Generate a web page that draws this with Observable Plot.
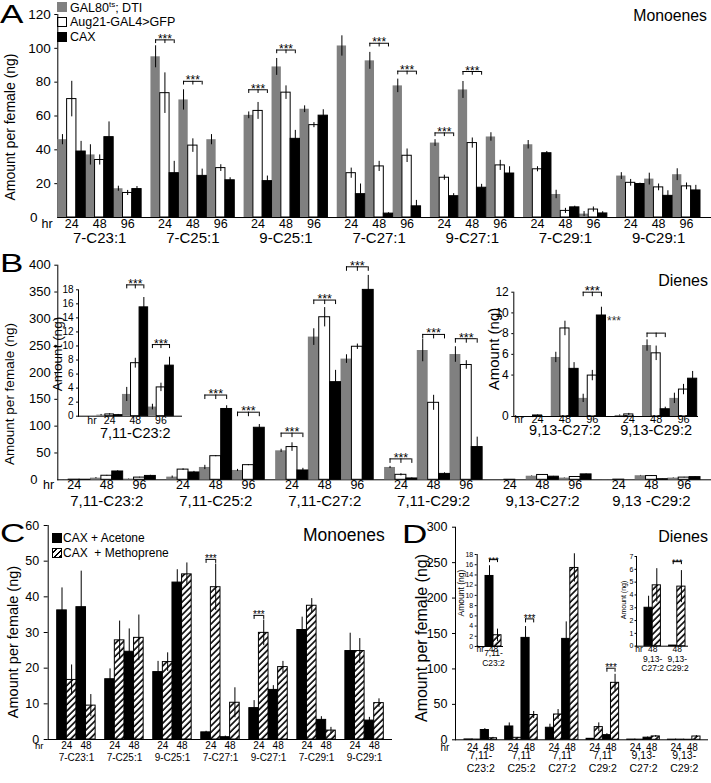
<!DOCTYPE html>
<html><head><meta charset="utf-8">
<script src="https://cdn.jsdelivr.net/npm/d3@7"></script>
<script src="https://cdn.jsdelivr.net/npm/@observablehq/plot@0.6"></script>
<style>
html,body{margin:0;padding:0;background:#fff;overflow:hidden;}
#fig{position:relative;width:711px;height:783px;font-family:"Liberation Sans",Arial,Helvetica,sans-serif;color:#000;overflow:hidden;}
.t{position:absolute;white-space:pre;line-height:1;}
.big{position:absolute;font-size:26px;line-height:1;transform:scaleX(1.35);transform-origin:0 0;}
.rot{position:absolute;white-space:nowrap;line-height:1;transform:translate(-50%,-50%) rotate(-90deg);}
.sw{position:absolute;width:10px;height:10px;box-sizing:border-box;}
</style></head><body>
<svg width="0" height="0" style="position:absolute"><defs>
<pattern id="hatch" patternUnits="userSpaceOnUse" width="4.5" height="4.5" patternTransform="rotate(45)">
<rect width="4.5" height="4.5" fill="#fff"/><line x1="1" y1="0" x2="1" y2="4.5" stroke="#000" stroke-width="1.6"/></pattern>
</defs></svg>
<div id="fig">
  <div class="big" style="left:0;top:0.5px">A</div>
  <div class="big" style="left:0;top:249.7px">B</div>
  <div class="big" style="left:0;top:520px">C</div>
  <div class="big" style="left:402px;top:520.7px">D</div>
  <div class="t" style="right:4px;top:8.3px;font-size:15.8px">Monoenes</div>
  <div class="t" style="right:3px;top:273.2px;font-size:16px">Dienes</div>
  <div class="t" style="left:303px;top:526.9px;font-size:17.5px">Monoenes</div>
  <div class="t" style="right:3px;top:529.2px;font-size:16px">Dienes</div>
  <div class="rot" style="left:9.5px;top:126.5px;font-size:14px">Amount per female (ng)</div>
  <div class="rot" style="left:10.3px;top:394px;font-size:13.5px">Amount per female (ng)</div>
  <div class="rot" style="left:12.7px;top:641.5px;font-size:14.5px">Amount per female (ng)</div>
  <div class="rot" style="left:422px;top:638px;font-size:16px">Amount per female (ng)</div>
  <div class="rot" style="left:58px;top:354px;font-size:13.5px">Amount (ng)</div>
  <div class="rot" style="left:492.5px;top:349px;font-size:15px">Amount (ng)</div>
  <div class="rot" style="left:460.5px;top:593px;font-size:8.5px">Amount (ng)</div>
  <div class="rot" style="left:623px;top:600px;font-size:7px">Amount (ng)</div>
  <div class="sw" style="left:57px;top:1.7px;background:#808080"></div>
  <div class="sw" style="left:57px;top:16.7px;background:#fff;border:1px solid #000"></div>
  <div class="sw" style="left:57px;top:32px;background:#000"></div>
  <div class="t" id="legA0" style="left:70px;top:0.6px;font-size:12.5px"></div>
  <div class="t" id="legA1" style="left:70px;top:15.6px;font-size:12.5px"></div>
  <div class="t" id="legA2" style="left:70px;top:30.9px;font-size:12.5px"></div>
  <div class="sw" style="left:51.7px;top:532.7px;background:#000"></div>
  <div class="sw" style="left:51.7px;top:548px;border:1px solid #000;background:repeating-linear-gradient(-45deg,#000 0 1.5px,#fff 1.5px 4px)"></div>
  <div class="t" id="legC0" style="left:63px;top:531.8px;font-size:12px"></div>
  <div class="t" id="legC1" style="left:63px;top:547.1px;font-size:12px"></div>
</div>
<script>
// ---------------- data ----------------
const genotypes = ["GAL80ts; DTI", "Aug21-GAL4>GFP", "CAX"];
const treatments = ["CAX + Acetone", "CAX  + Methoprene"];
const timesAB = ["24", "48", "96"];
const timesCD = ["24", "48"];

// Panel A: monoenes (compound-major, then 24/48/96 h)
const compoundsA = ["7-C23:1", "7-C25:1", "9-C25:1", "7-C27:1", "9-C27:1", "7-C29:1", "9-C29:1"];
const gal80A = [46, 37, 17, 95, 69.5, 46, 60.4, 89, 64, 101.4, 92.6, 77.8, 44, 75.4, 47.6, 43, 13.6, 2, 24.5, 22.7, 25.3];
const aug21A = [70, 34, 14.5, 73.5, 42.5, 29.2, 63, 73.8, 54.6, 26.2, 30.2, 36.5, 23.5, 44, 30.8, 28.5, 3.9, 4.7, 20.5, 17.8, 18.4];
const caxA = [39, 47.5, 16.8, 26.2, 24.6, 22, 21.5, 46.5, 60.2, 13.8, 2.3, 6.6, 12.6, 17.6, 26, 38, 6, 2.4, 19.8, 12.8, 16];
const gal80ErrA = [3, 6, 1.5, 6.5, 6, 3, 2, 5, 2, 6, 5, 4, 2, 5, 2.5, 2.5, 2.5, 1.5, 2, 3.5, 3.5];
const aug21ErrA = [10.5, 3, 1.5, 12, 4, 2, 5, 4, 1.5, 3, 3, 4, 1.5, 3, 3, 1.5, 1.5, 1.5, 2, 2, 2];
const caxErrA = [6, 9, 1.5, 7, 4, 1.5, 3, 5, 3.5, 6, 0.5, 3.5, 1.5, 2, 4, 1, 0.7, 1, 0.5, 3, 3];
const sigA = [{c: 1, t: 0, y: 105}, {c: 1, t: 1, y: 80.5}, {c: 2, t: 0, y: 75.5}, {c: 2, t: 1, y: 99},
              {c: 3, t: 1, y: 103}, {c: 3, t: 2, y: 86.5}, {c: 4, t: 0, y: 50}, {c: 4, t: 1, y: 86.3}];

// Panel B: dienes
const compoundsB = ["7,11-C23:2", "7,11-C25:2", "7,11-C27:2", "7,11-C29:2", "9,13-C27:2", "9,13 -C29:2"];
const gal80B = [0.15, 3.1, 1.3, 5, 23, 17.4, 54, 266, 225, 23, 241, 233.5, 0, 6.7, 3.2, 0.15, 7.6, 3.2];
const aug21B = [0.25, 7.55, 4.1, 19, 44, 27.3, 61, 303, 248, 9.3, 143.5, 214, 0.1, 9, 5.2, 0.3, 7, 4.1];
const caxB = [0.15, 15.5, 7.2, 13.7, 132, 97, 17.4, 182, 354, 2.5, 11, 61, 0, 5.8, 10.1, 0, 1.1, 5];
const gal80ErrB = [0.1, 1, 0.4, 2, 4, 2, 3, 15.5, 8, 2, 21, 14.5, 0, 0.5, 0.4, 0.05, 0.55, 0.5];
const aug21ErrB = [0.1, 0.7, 0.6, 1.5, 1, 1, 8, 18, 5, 2, 14, 8, 0.05, 0.7, 0.5, 0.1, 0.7, 0.5];
const caxErrB = [0.1, 1.4, 1.2, 2, 6, 6, 4, 22, 27, 1, 2, 18.5, 0, 0.6, 0.8, 0, 0.3, 0.6];
const sigB = [{c: 1, t: 1, y: 158}, {c: 1, t: 2, y: 126}, {c: 2, t: 0, y: 87}, {c: 2, t: 1, y: 335},
              {c: 2, t: 2, y: 397}, {c: 3, t: 0, y: 39}, {c: 3, t: 1, y: 271}, {c: 3, t: 2, y: 263}];
// inset 1 of panel B (7,11-C23:2, ng)
const insetB1Compounds = ["7,11-C23:2"];
const gal80B1 = [0.15, 3.1, 1.3], aug21B1 = [0.25, 7.55, 4.1], caxB1 = [0.15, 15.5, 7.2];
const gal80ErrB1 = [0.1, 1, 0.4], aug21ErrB1 = [0.1, 0.7, 0.6], caxErrB1 = [0.1, 1.4, 1.2];
const sigB1 = [{c: 0, t: 1, y: 18.7}, {c: 0, t: 2, y: 10.2}];
// inset 2 of panel B (9,13 dienes, ng)
const insetB2Compounds = ["9,13-C27:2", "9,13-C29:2"];
const gal80B2 = [0, 5.7, 1.75, 0.1, 6.85, 1.75];
const aug21B2 = [0.1, 8.5, 3.95, 0.2, 6.1, 2.6];
const caxB2 = [0, 4.6, 9.75, 0, 0.7, 3.65];
const gal80ErrB2 = [0, 0.5, 0.4, 0.05, 0.55, 0.5];
const aug21ErrB2 = [0.05, 0.7, 0.5, 0.1, 0.7, 0.5];
const caxErrB2 = [0, 0.6, 0.8, 0, 0.2, 0.7];
const sigB2 = [{c: 0, t: 2, y: 12}, {c: 1, t: 1, y: 8.05, stars: false}];
const strayStars = [{x: 9, y: 9.2}];

// Panel C: monoenes, methoprene rescue
const compoundsC = ["7-C23:1", "7-C25:1", "9-C25:1", "7-C27:1", "9-C27:1", "7-C29:1", "9-C29:1"];
const acetoneC = [36.2, 37.1, 16.9, 24.6, 18.9, 44, 2, 0.65, 8.8, 13.9, 30.7, 5.5, 24.8, 5.3];
const methopreneC = [16.7, 9.5, 27.8, 28.5, 21.7, 46.3, 42.7, 10.3, 29.9, 20.3, 37.5, 2.5, 24.8, 10.2];
const acetoneErrC = [6.3, 10.1, 2.9, 6.4, 3, 3.6, 0.3, 0.3, 2.1, 1.2, 3.6, 0.9, 5, 0.9];
const methopreneErrC = [4.2, 3.1, 5.4, 6.4, 2.6, 3.2, 6.5, 4.2, 3.6, 1.6, 2, 0.9, 3.5, 1.2];
const sigC = [{c: 3, t: 0, y: 50.5}, {c: 4, t: 0, y: 34.8}];

// Panel D: dienes, methoprene rescue
const compoundsD = ["7,11-\nC23:2", "7,11\nC25:2", "7,11\nC27:2", "7,11\nC29:2", "9,13-\nC27:2", "9,13-\nC29:2"];
const acetoneD = [0.5, 13.8, 18.8, 143.8, 17, 142.4, 1.4, 6.6, 0.3, 3, 0.2, 0.05];
const methopreneD = [0.3, 2.2, 2.8, 35, 35.7, 242.5, 17.9, 80.4, 0.2, 4.75, 0.2, 4.65];
const acetoneErrD = [0, 2, 5, 16, 5, 24, 0.3, 2, 0, 0.9, 0, 0];
const methopreneErrD = [0, 1.2, 0.5, 5, 7, 20, 6, 12, 0, 1.3, 0, 1.25];
const sigD = [{c: 1, t: 1, y: 170.6}, {c: 3, t: 1, y: 101}];
const insetD1Compounds = ["7,11-\nC23:2"];
const insetD2Compounds = ["9,13-\nC27:2", "9,13-\nC29:2"];
const sigD1 = [{c: 0, t: 0, y: 17}];
const sigD2 = [{c: 1, t: 0, y: 6.6}];

// ---------------- legends ----------------
document.getElementById("legA0").innerHTML = "GAL80<sup style='font-size:8px'>ts</sup>; DTI";
document.getElementById("legA1").textContent = genotypes[1];
document.getElementById("legA2").textContent = genotypes[2];
document.getElementById("legC0").textContent = treatments[0];
document.getElementById("legC1").textContent = treatments[1];

// ---------------- drawing ----------------
const FONT = "'Liberation Sans', Arial, Helvetica, sans-serif";
const GRAY = "#808080";
const fig = document.getElementById("fig");

function panel(c) {
  const nS = c.series.length;
  const rows = [];
  c.series.forEach((arr, k) => arr.forEach((v, i) => {
    const g = Math.floor(i / c.nT), t = i % c.nT;
    const u = g * c.period + t * nS + k;
    rows.push({k, x1: u, x2: u + 1, xc: u + 0.5, v, e: c.errs[k][i]});
  }));
  const marks = [];
  marks.push(Plot.ruleY([0], {stroke: "#000", strokeWidth: 1}));
  for (let k = 0; k < nS; k++) {
    marks.push(Plot.rect(rows.filter(r => r.k === k), {
      x1: "x1", x2: "x2", y1: () => 0, y2: "v",
      fill: c.fills[k], stroke: c.strokes[k], strokeWidth: 1
    }));
  }
  marks.push(Plot.ruleX(rows.filter(r => r.e > 0), {
    x: "xc", y1: r => Math.max(0, r.v - r.e), y2: r => r.v + r.e, stroke: "#000", strokeWidth: 1
  }));
  if (c.sig) {
    const sig = c.sig.map(s => ({...s, a: s.c * c.period + s.t * nS + 0.5, b: s.c * c.period + s.t * nS + nS - 0.5}));
    marks.push(Plot.ruleY(sig, {y: "y", x1: "a", x2: "b", stroke: "#000", strokeWidth: 1}));
    const ticks = sig.flatMap(s => d3.range(nS).map(k => ({x: s.a + k, y: s.y})));
    marks.push(Plot.ruleX(ticks, {x: "x", y1: "y", y2: "y", insetTop: 0, insetBottom: -c.tickLen, stroke: "#000", strokeWidth: 1}));
    marks.push(Plot.text(sig.filter(s => s.stars !== false), {
      x: s => (s.a + s.b) / 2, y: "y", text: () => "***", lineAnchor: "bottom", dy: 3, fontSize: c.starFont
    }));
  }
  const nG = c.compounds.length;
  const timeRows = [];
  for (let g = 0; g < nG; g++) c.times.forEach((lab, t) => timeRows.push({x: g * c.period + t * nS + nS / 2, lab}));
  marks.push(Plot.text(timeRows, {x: "x", text: "lab", frameAnchor: "bottom", dy: c.timeDy, fontSize: c.timeFont}));
  marks.push(Plot.text(c.compounds, {
    x: (d, i) => i * c.period + c.times.length * nS / 2, text: d => d,
    frameAnchor: "bottom", dy: c.compDy, fontSize: c.compFont, lineHeight: c.lineHeight || 1
  }));
  marks.push(Plot.text(["hr"], {text: d => d, frameAnchor: "bottom-left", textAnchor: "middle", dx: c.hr[0], dy: c.hr[1], fontSize: c.hr[2]}));
  if (c.zeroDx != null) {
    marks.push(Plot.text([0], {y: d => d, text: d => String(d), frameAnchor: "left", textAnchor: "end", dx: c.zeroDx, fontSize: c.tickFont}));
  }
  if (c.extra) marks.push(...c.extra);
  const p = Plot.plot({
    width: 711, height: 783,
    marginLeft: c.m[0], marginRight: c.m[1], marginTop: c.m[2], marginBottom: c.m[3],
    x: {domain: c.xDomain, range: c.xRange, axis: null},
    y: Object.assign({label: null, line: true, tickFormat: d => String(d)}, c.y),
    marks
  });
  p.style.position = "absolute"; p.style.left = "0"; p.style.top = "0";
  p.style.background = "transparent"; p.style.overflow = "visible"; p.style.maxWidth = "none";
  p.style.fontFamily = FONT; p.style.fontSize = c.tickFont + "px";
  fig.appendChild(p);
}

const fillsG = [GRAY, "#fff", "#000"], strokesG = ["none", "#000", "#000"];
const fillsT = ["#000", "url(#hatch)"], strokesT = ["#000", "#000"];

// Panel A
panel({
  series: [gal80A, aug21A, caxA], errs: [gal80ErrA, aug21ErrA, caxErrA], nT: 3, period: 10,
  fills: fillsG, strokes: strokesG,
  xDomain: [0, 69], xRange: [57.3, 700],
  y: {domain: [0, 120], ticks: d3.range(20, 121, 20), tickSize: 3, tickPadding: 4},
  m: [57.3, 0, 14, 783 - 217], tickFont: 13.5, zeroDx: -20.3,
  sig: sigA, tickLen: 3.7, starFont: 12,
  compounds: compoundsA, times: timesAB, timeFont: 12.5, timeDy: 10, compFont: 15, compDy: 25.7,
  hr: [-10.8, 10.5, 12.5]
});

// Panel B main
panel({
  series: [gal80B, aug21B, caxB], errs: [gal80ErrB, aug21ErrB, caxErrB], nT: 3, period: 10,
  fills: fillsG, strokes: strokesG,
  xDomain: [0, 59], xRange: [57.3, 700],
  y: {domain: [0, 400], ticks: d3.range(50, 401, 50), tickSize: 3, tickPadding: 4},
  m: [57.3, 0, 264.7, 783 - 479.3], tickFont: 13, zeroDx: -20.3,
  sig: sigB, tickLen: 4.5, starFont: 12.5,
  compounds: compoundsB, times: timesAB, timeFont: 12.5, timeDy: 9, compFont: 15, compDy: 25.7,
  hr: [-9.3, 9.5, 12.5]
});

// Panel B inset 1 (7,11-C23:2)
panel({
  series: [gal80B1, aug21B1, caxB1], errs: [gal80ErrB1, aug21ErrB1, caxErrB1], nT: 3, period: 10,
  fills: fillsG, strokes: strokesG,
  xDomain: [0, 9], xRange: [96.3, 173.3],
  y: {domain: [0, 18], ticks: d3.range(0, 19, 2), tickSize: 2, tickPadding: 3},
  m: [78, 711 - 182, 289.3, 783 - 415.7], tickFont: 10,
  sig: sigB1, tickLen: 4, starFont: 12,
  compounds: insetB1Compounds, times: timesAB, timeFont: 10.5, timeDy: 7.3, compFont: 14.5, compDy: 21.3,
  hr: [13.5, 7.3, 10.5]
});

// Panel B inset 2 (9,13 dienes)
panel({
  series: [gal80B2, aug21B2, caxB2], errs: [gal80ErrB2, aug21ErrB2, caxErrB2], nT: 3, period: 10,
  fills: fillsG, strokes: strokesG,
  xDomain: [0, 19], xRange: [523.4, 696.7],
  y: {domain: [0, 12], ticks: [0, 4, 6, 8, 10, 12], tickSize: 2, tickPadding: 3},
  m: [513.3, 13, 291.7, 783 - 416], tickFont: 12,
  sig: sigB2, tickLen: 4.5, starFont: 13,
  compounds: insetB2Compounds, times: timesAB, timeFont: 11, timeDy: 6, compFont: 14.5, compDy: 18,
  hr: [5.2, 6, 10.5],
  extra: [Plot.text(strayStars, {x: "x", y: "y", text: () => "***", textAnchor: "start", dx: 1, fontSize: 12, fill: "#333"})]
});

// Panel C
panel({
  series: [acetoneC, methopreneC], errs: [acetoneErrC, methopreneErrC], nT: 2, period: 5,
  fills: fillsT, strokes: strokesT,
  xDomain: [0, 34], xRange: [56.7, 383.3],
  y: {domain: [0, 60], ticks: d3.range(0, 61, 10), tickSize: 4, tickPadding: 5},
  m: [47.7, 711 - 392, 525, 783 - 739], tickFont: 12.5,
  sig: sigC, tickLen: 4, starFont: 10,
  compounds: compoundsC, times: timesCD, timeFont: 10, timeDy: 9, compFont: 10, compDy: 21,
  hr: [-9, 9, 9.5]
});

// Panel D
panel({
  series: [acetoneD, methopreneD], errs: [acetoneErrD, methopreneErrD], nT: 2, period: 5,
  fills: fillsT, strokes: strokesT,
  xDomain: [0, 29], xRange: [464, 700],
  y: {domain: [0, 300], ticks: d3.range(0, 301, 50), tickSize: 3, tickPadding: 5},
  m: [455, 3, 526.7, 783 - 739.3], tickFont: 12.5,
  sig: sigD, tickLen: 4, starFont: 10,
  compounds: compoundsD, times: timesCD, timeFont: 10, timeDy: 10.7, compFont: 10.5, compDy: 31.7, lineHeight: 1.15,
  hr: [-10.5, 10.7, 10]
});

// Panel D inset 1 (48 h, 7,11-C23:2)
panel({
  series: [[acetoneD[1]], [methopreneD[1]]], errs: [[acetoneErrD[1]], [methopreneErrD[1]]], nT: 1, period: 3,
  fills: fillsT, strokes: strokesT,
  xDomain: [0, 2], xRange: [485, 501],
  y: {domain: [0, 18], ticks: d3.range(0, 19, 2), tickSize: 2, tickPadding: 2},
  m: [476.7, 711 - 503, 554, 783 - 646], tickFont: 7,
  sig: sigD1, tickLen: 3, starFont: 9,
  compounds: insetD1Compounds, times: ["48"], timeFont: 8.5, timeDy: 5.5, compFont: 8.5, compDy: 19, lineHeight: 1.1,
  hr: [3, 5.5, 8.5]
});

// Panel D inset 2 (48 h, 9,13 dienes)
panel({
  series: [[acetoneD[9], acetoneD[11]], [methopreneD[9], methopreneD[11]]],
  errs: [[acetoneErrD[9], acetoneErrD[11]], [methopreneErrD[9], methopreneErrD[11]]], nT: 1, period: 3,
  fills: fillsT, strokes: strokesT,
  xDomain: [0, 5], xRange: [644, 685],
  y: {domain: [0, 7], ticks: d3.range(0, 8), tickSize: 1.5, tickPadding: 1.5},
  m: [636, 711 - 688, 556, 783 - 645.7], tickFont: 7,
  sig: sigD2, tickLen: 3, starFont: 9,
  compounds: insetD2Compounds, times: ["48"], timeFont: 8.5, timeDy: 5.5, compFont: 8.5, compDy: 25, lineHeight: 1.1,
  hr: [2.5, 5.5, 8.5]
});
</script>
</body></html>
